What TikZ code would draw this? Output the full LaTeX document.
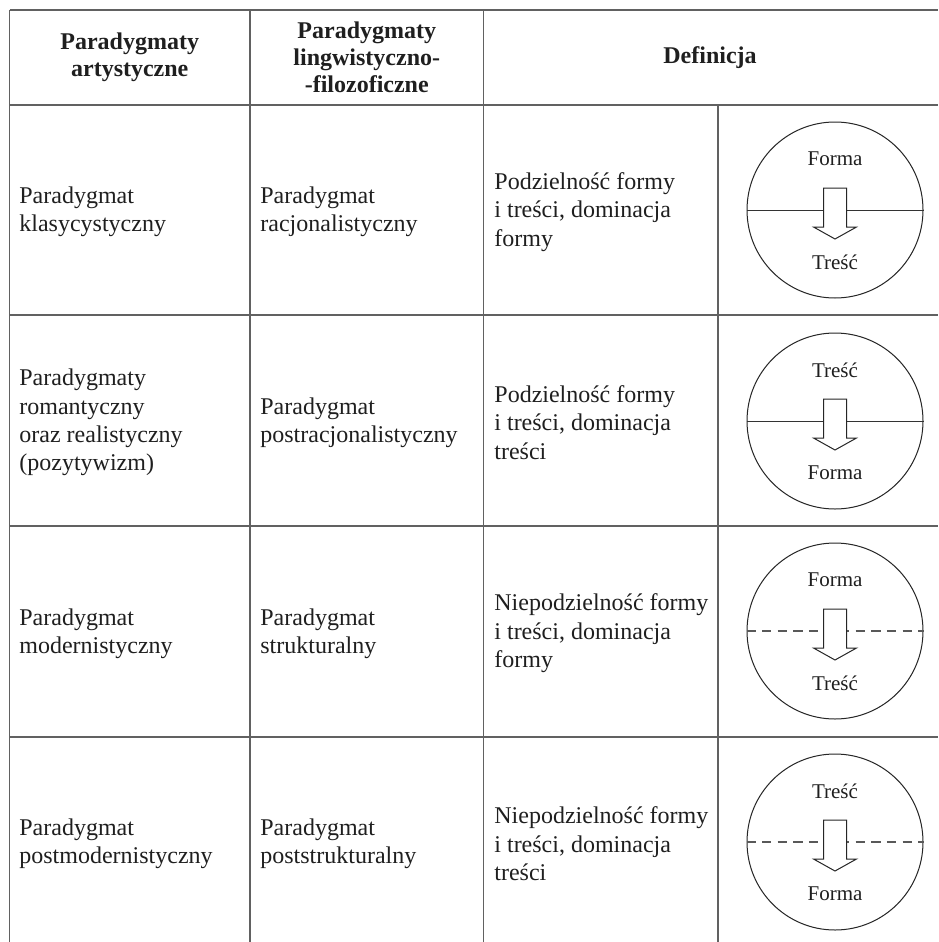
\documentclass[tikz,border=0pt]{standalone}
\usepackage{fontspec}
\setmainfont{Liberation Serif}
\usetikzlibrary{calc}
\begin{document}
\begin{tikzpicture}[x=0.5pt,y=-0.5pt,
  rule/.style={draw=black!62,line width=0.75pt},
  headtext/.style={font=\fontsize{12}{13.4}\selectfont\bfseries,align=center,text=black!88,inner sep=0pt},
  celltext/.style={font=\fontsize{12}{14.2}\selectfont,align=left,anchor=west,text=black!88,inner sep=0pt},
  disc/.style={circle,draw=black!85,line width=0.5pt,minimum size=88pt,inner sep=0pt},
  disclabel/.style={font=\fontsize{10.5}{12}\selectfont,text=black!88,inner sep=0pt},
  solidsplit/.style={draw=black!80,line width=0.5pt},
  dashsplit/.style={draw=black!65,line width=0.6pt,dash pattern=on 4.6pt off 3.2pt},
  arrowshape/.style={draw=black!85,line width=0.5pt,fill=white}
]
\useasboundingbox (0,0) rectangle (938,942);
\fill[white] (0,0) rectangle (938,942);

% table rules
\foreach \yy in {10,105,315,526,737} {\draw[rule] (9.5,\yy) -- (938,\yy);}
\foreach \xx in {9.5,250,483.5} {\draw[rule] (\xx,10) -- (\xx,942);}
\draw[rule] (718,105) -- (718,942);

% header
\node[headtext] (h1) at (129.75,57.5) {Paradygmaty\\artystyczne};
\node[headtext] (h2) at (366.75,57.5) {Paradygmaty\\lingwistyczno-\\-filozoficzne};
\node[headtext] (h3) at (710,57.5) {Definicja};

% row 1
\node[celltext] (r1a) at (19,212) {Paradygmat\\klasycystyczny};
\node[celltext] (r1b) at (260,212) {Paradygmat\\racjonalistyczny};
\node[celltext] (r1c) at (494,212) {Podzielność formy\\i treści, dominacja\\formy};
% row 2
\node[celltext] (r2a) at (19,422.5) {Paradygmaty\\romantyczny\\oraz realistyczny\\(pozytywizm)};
\node[celltext] (r2b) at (260,422.5) {Paradygmat\\postracjonalistyczny};
\node[celltext] (r2c) at (494,422.5) {Podzielność formy\\i treści, dominacja\\treści};
% row 3
\node[celltext] (r3a) at (19,633.5) {Paradygmat\\modernistyczny};
\node[celltext] (r3b) at (260,633.5) {Paradygmat\\strukturalny};
\node[celltext] (r3c) at (494,633.5) {Niepodzielność formy\\i treści, dominacja\\formy};
% row 4
\node[celltext] (r4a) at (19,844) {Paradygmat\\postmodernistyczny};
\node[celltext] (r4b) at (260,844) {Paradygmat\\poststrukturalny};
\node[celltext] (r4c) at (494,844) {Niepodzielność formy\\i treści, dominacja\\treści};

% circles
\node[disc] (c1) at (835,210) {};
\node[disc] (c2) at (835,421) {};
\node[disc] (c3) at (835,631) {};
\node[disc] (c4) at (835,842) {};

\draw[solidsplit] (c1.west) -- (c1.east);
\draw[solidsplit] (c2.west) -- (c2.east);
\draw[dashsplit] (c3.west) -- (c3.east);
\draw[dashsplit] (c4.west) -- (c4.east);

\foreach \c in {c1,c2,c3,c4} {
  \begin{scope}[shift={(\c.center)}]
    \draw[arrowshape] (-11.5,-22) -- (11.5,-22) -- (11.5,17) -- (21.5,17) -- (0,29) -- (-21.5,17) -- (-11.5,17) -- cycle;
  \end{scope}
}

\node[disclabel] (t1) at ($(c1.center)+(0,-51)$) {Forma};
\node[disclabel] (b1) at ($(c1.center)+(0,52)$) {Treść};
\node[disclabel] (t2) at ($(c2.center)+(0,-51)$) {Treść};
\node[disclabel] (b2) at ($(c2.center)+(0,52)$) {Forma};
\node[disclabel] (t3) at ($(c3.center)+(0,-51)$) {Forma};
\node[disclabel] (b3) at ($(c3.center)+(0,52)$) {Treść};
\node[disclabel] (t4) at ($(c4.center)+(0,-51)$) {Treść};
\node[disclabel] (b4) at ($(c4.center)+(0,52)$) {Forma};
\end{tikzpicture}
\end{document}
